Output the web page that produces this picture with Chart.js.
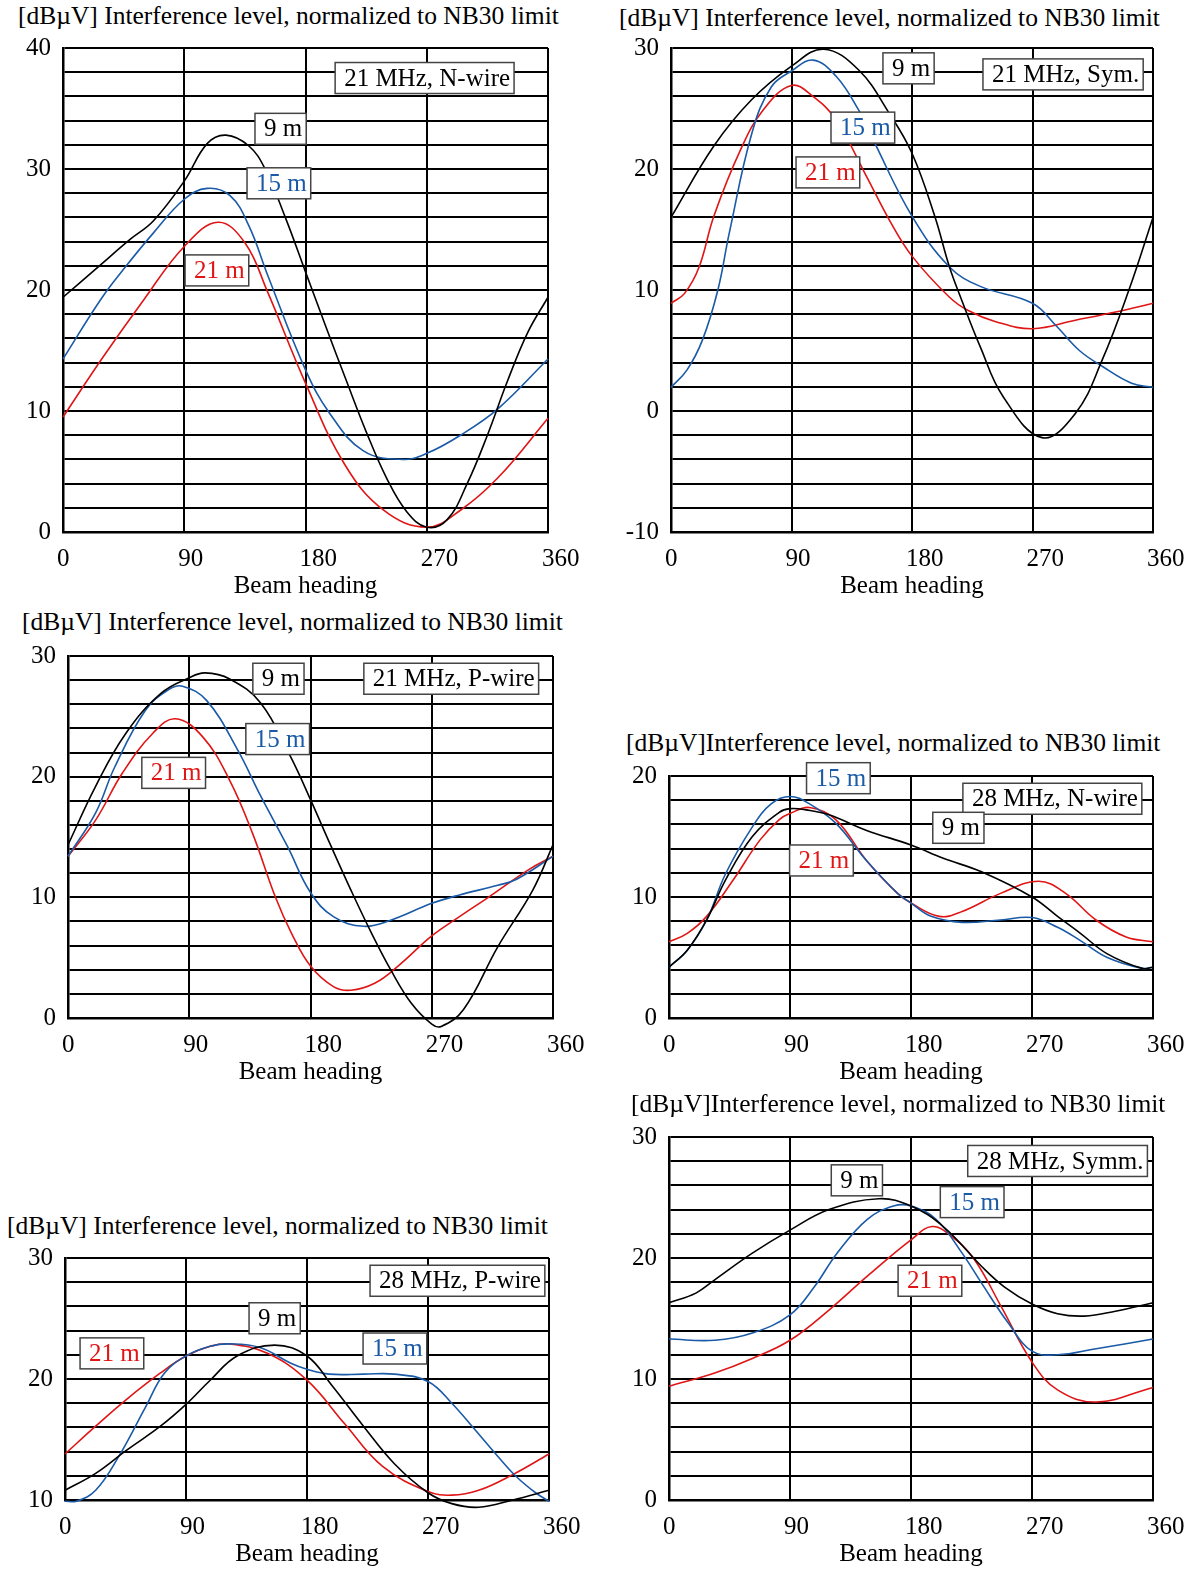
<!DOCTYPE html>
<html>
<head>
<meta charset="utf-8">
<script src="https://cdn.jsdelivr.net/npm/chart.js@4.4.1/dist/chart.umd.min.js"></script>
<style>
body { margin: 0; background: #fff; width: 1198px; height: 1574px; position: relative; overflow: hidden; font-family: "Liberation Serif", "Times New Roman", serif; }
.title { position: absolute; font-size: 25.5px; line-height: 25px; white-space: nowrap; color: #000; }
canvas { position: absolute; }
</style>
</head>
<body>
<script>
// beam heading ticks (degrees) and the three antenna heights
const headingTicks = [0, 90, 180, 270, 360];
const heights = ['9 m', '15 m', '21 m'];

// each curve: [beam heading, dBuV]
// 21 MHz, N-wire
const nWire21_9m = [[0,19.4],[27,22],[50,24.2],[67,25.7],[90,29],[107,32.1],[121,32.8],[138,31.9],[150,30.0],[165,26.0],[180,21.5],[195,17.0],[210,12.6],[225,8.3],[240,4.5],[255,1.7],[270,0.4],[285,1.0],[300,4.0],[315,8.0],[330,12.5],[345,16.5],[360,19.4]];
const nWire21_15m = [[0,14.3],[28.5,19.3],[47,22],[67,24.7],[90,27.5],[107,28.4],[124,27.8],[138,25.3],[152,21.2],[180,13.4],[198,9.8],[223,6.7],[252,6.0],[270,6.5],[295,8.0],[323,10.2],[360,14.3]];
const nWire21_21m = [[0,9.5],[30,14.5],[60,19.2],[90,23.6],[115,25.6],[135,23.9],[152,19.8],[180,12.3],[209,5.6],[238,1.8],[270,0.4],[295,1.8],[323,4.5],[360,9.4]];
// 21 MHz, Sym.
const sym21_9m = [[0,16],[32,21.9],[60,25.7],[90,28.5],[114,29.9],[140,28.2],[163,24.6],[180,21.3],[197,16.1],[208,11.9],[217,9.2],[231,5.3],[248,1.2],[277,-2.2],[302,-0.2],[322,4.2],[342,10],[360,16]];
const sym21_15m = [[0,1.95],[12,3.4],[23.6,5.9],[35,10],[43.5,14.7],[60.5,23],[75,26.8],[90,28.1],[106,29],[123,27.7],[140,24.9],[151,22.4],[180,16.1],[208,11.9],[231,10.3],[270,8.9],[288,7],[305,5],[322,3.7],[344,2.3],[360,1.95]];
const sym21_21m = [[0,8.9],[10,9.7],[21,11.9],[32,16.1],[52,21.6],[69,24.9],[90,26.9],[106,26],[123,24.1],[146,19.4],[163,15.8],[180,12.8],[208,9.4],[222,8.3],[242,7.4],[270,6.8],[302,7.5],[333,8.2],[360,8.9]];
// 21 MHz, P-wire
const pWire21_9m = [[0,14.35],[20.5,19.2],[43,23.6],[69,26.9],[90,28.2],[101.6,28.6],[120,28.1],[143,26.1],[165,21.7],[180,18.1],[195,14.3],[210,10.6],[225,7.1],[240,3.9],[255,1.2],[270,-0.5],[277,-0.7],[293.6,0.7],[319,5.9],[345,10.6],[360,14.35]];
const pWire21_15m = [[0,13.4],[20.5,17],[34.7,20.8],[57.5,25.5],[74.5,27.2],[85,27.5],[103,26.3],[126,22.2],[143,18.4],[163,14.2],[180,10.4],[197,8.4],[219.6,7.6],[239.5,8.1],[270,9.5],[290.6,10.2],[319,11],[333,11.5],[360,13.4]];
const pWire21_21m = [[0,13.4],[20.5,16.4],[40.4,20.3],[63,23.6],[79.7,24.8],[100,23.3],[120,19.7],[137,15.3],[154,10],[166,7],[180,4.3],[197,2.6],[210,2.3],[228,2.9],[245,4.3],[270,6.8],[290.6,8.4],[312,10],[342,12.3],[360,13.4]];
// 28 MHz, N-wire
const nWire28_9m = [[0,4.2],[13.6,5.6],[28,8.1],[42,11.4],[62,15],[82,17],[90,17.3],[102,17.2],[119,16.8],[147,15.5],[180,14.3],[204,13.2],[232,12.1],[270,10],[289,8.4],[306,7],[326,5.3],[352,4.1],[360,4.2]];
const nWire28_15m = [[0,4.2],[13.6,5.6],[28,8.1],[42,11.9],[62,15.8],[76,17.7],[90,18.3],[104.5,17.7],[124,16.1],[147,13],[170,10.3],[180,9.5],[195,8.4],[218,7.9],[246.6,8.1],[270,8.3],[289,7.5],[306,6.4],[326,5],[352,4.1],[360,4.2]];
const nWire28_21m = [[0,6.3],[13.6,7],[28,8.4],[47.7,11.4],[67.6,14.7],[82,16.4],[90,16.9],[104.5,17.4],[124,16.4],[147,13],[170,10.3],[180,9.5],[201,8.4],[218,8.8],[246.6,10.3],[275,11.3],[295,10.3],[317.6,8.1],[340,6.7],[360,6.3]];
// 28 MHz, P-wire
const pWire28_9m = [[0,10.8],[22.8,12.2],[45.6,14.1],[71,16.1],[90,17.9],[108,19.9],[128,21.9],[156,22.8],[180,21.9],[199,19.4],[222,16.1],[245,13],[270,10.6],[287.7,9.7],[307.7,9.4],[333,10],[360,10.8]];
const pWire28_15m = [[0,9.9],[8.5,9.9],[22.8,10.8],[40,13.6],[60,17.7],[74,20.5],[90,21.9],[108,22.7],[122.5,22.9],[145,22.6],[168,21.3],[180,20.8],[196.6,20.4],[222,20.4],[245,20.4],[270,19.8],[287.7,18],[305,15.8],[322,13.6],[336,11.9],[350,10.6],[360,9.9]];
const pWire28_21m = [[0,13.8],[22.8,16.1],[45.6,18.3],[71,20.5],[90,21.9],[108,22.7],[122.5,22.9],[151,22.1],[180,19.9],[208,16.3],[236,12.8],[270,10.7],[287.7,10.4],[307.7,10.8],[333,12.1],[360,13.8]];
// 28 MHz, Symm.
const symm28_9m = [[0,16.3],[20,17.1],[34,18.2],[62,20.4],[90,22.3],[119,24],[156,24.9],[180,24.3],[204,22.6],[232.6,19.3],[249.6,17.6],[270,16.2],[289,15.4],[309,15.2],[332,15.6],[360,16.3]];
const symm28_15m = [[0,13.3],[34,13.2],[62,13.8],[90,15.3],[108,17.6],[125,20.4],[147.5,23.2],[167,24.3],[180,24.3],[198.6,23.2],[218,20.4],[232.6,17.9],[252.5,14.6],[270,12.3],[289,12],[317.7,12.5],[360,13.3]];
const symm28_21m = [[0,9.4],[34,10.5],[62,11.7],[90,13.2],[119,15.7],[147.5,18.5],[180,21.5],[195.7,22.6],[210,21.8],[227,19.9],[247,16],[270,11.4],[289,9.1],[317.7,8.1],[360,9.3]];

const titleText = '[dB\u00b5V] Interference level, normalized to NB30 limit';
const titleTight = '[dB\u00b5V]Interference level, normalized to NB30 limit';
const lineColors = { '9 m': '#000000', '15 m': '#1a5aa6', '21 m': '#e01515' };

// page layout: plot box and title spot for each panel, plus where the label boxes sit (data coords)
const panels = [
  { title: titleText, tx: 18, ty: 3, plot: [63, 48, 485, 484], yRange: [0, 40],
    series: [nWire21_9m, nWire21_15m, nWire21_21m],
    notes: [['21 MHz, N-wire', 202, 38.8, '#000'], ['9 m', 142.5, 34.6, '9 m'], ['15 m', 136.6, 30.1, '15 m'], ['21 m', 90.6, 22.9, '21 m']] },
  { title: titleText, tx: 619, ty: 5, plot: [671, 48, 482, 484], yRange: [-10, 30],
    series: [sym21_9m, sym21_15m, sym21_21m],
    notes: [['9 m', 158.3, 29.6, '9 m'], ['21 MHz, Sym.', 233, 29.1, '#000'], ['15 m', 119.5, 24.7, '15 m'], ['21 m', 93.4, 21.0, '21 m']] },
  { title: titleText, tx: 22, ty: 609, plot: [68, 656, 485, 362], yRange: [0, 30],
    series: [pWire21_9m, pWire21_15m, pWire21_21m],
    notes: [['9 m', 137.2, 29.4, '9 m'], ['21 MHz, P-wire', 219.6, 29.4, '#000'], ['15 m', 132, 24.4, '15 m'], ['21 m', 54.8, 21.6, '21 m']] },
  { title: titleTight, tx: 626, ty: 730, plot: [669, 776, 484, 242], yRange: [0, 20],
    series: [nWire28_9m, nWire28_15m, nWire28_21m],
    notes: [['15 m', 102.3, 21.1, '15 m'], ['28 MHz, N-wire', 218.6, 19.4, '#000'], ['9 m', 196.2, 17.0, '9 m'], ['21 m', 89.7, 14.3, '21 m']] },
  { title: titleText, tx: 7, ty: 1213, plot: [65, 1258, 484, 242], yRange: [10, 30],
    series: [pWire28_9m, pWire28_15m, pWire28_21m],
    notes: [['28 MHz, P-wire', 226.9, 29.4, '#000'], ['9 m', 136.9, 26.3, '9 m'], ['21 m', 11.2, 23.4, '21 m'], ['15 m', 221.7, 23.8, '15 m']] },
  { title: titleTight, tx: 631, ty: 1091, plot: [669, 1137, 484, 363], yRange: [0, 30],
    series: [symm28_9m, symm28_15m, symm28_21m],
    notes: [['28 MHz, Symm.', 222.2, 29.3, '#000'], ['9 m', 120.7, 27.7, '9 m'], ['15 m', 201.8, 25.9, '15 m'], ['21 m', 170.4, 19.4, '21 m']] }
];

const serif = '"Liberation Serif", "Times New Roman", serif';
const yAxisW = 62, padTop = 40, padRight = 60, xAxisH = 75;

// white boxes with the height / band names, placed through the chart scales
const boxLabels = {
  id: 'boxLabels',
  afterDatasetsDraw(chart, args, opts) {
    const ctx = chart.ctx;
    const xs = chart.scales.x, ys = chart.scales.y;
    ctx.save();
    ctx.font = '25px ' + serif;
    ctx.textBaseline = 'middle';
    for (const note of opts.notes) {
      const left = xs.getPixelForValue(note[1]);
      const top = ys.getPixelForValue(note[2]);
      const w = ctx.measureText(note[0]).width + 13;
      const h = 31;
      ctx.fillStyle = '#fff';
      ctx.fillRect(left, top, w, h);
      ctx.strokeStyle = '#444';
      ctx.lineWidth = 1.5;
      ctx.strokeRect(left, top, w, h);
      ctx.fillStyle = lineColors[note[3]] || note[3];
      ctx.fillText(note[0], left + 9, top + h / 2 + 1);
    }
    ctx.restore();
  }
};

function makePanel(p) {
  const title = document.createElement('div');
  title.className = 'title';
  title.style.left = p.tx + 'px';
  title.style.top = p.ty + 'px';
  title.textContent = p.title;
  document.body.appendChild(title);

  const [pl, pt, pw, ph] = p.plot;
  const canvas = document.createElement('canvas');
  canvas.width = yAxisW + pw + padRight;
  canvas.height = padTop + ph + xAxisH;
  canvas.style.left = (pl - yAxisW) + 'px';
  canvas.style.top = (pt - padTop) + 'px';
  document.body.appendChild(canvas);

  const datasets = p.series.map((pts, i) => ({
    label: heights[i],
    data: pts.map(d => ({ x: d[0], y: d[1] })),
    borderColor: lineColors[heights[i]],
    borderWidth: 1.6,
    pointRadius: 0,
    tension: 0.4,
    clip: false
  }));

  return new Chart(canvas, {
    type: 'line',
    data: { datasets: datasets },
    options: {
      responsive: false,
      animation: false,
      devicePixelRatio: 1,
      elements: { line: { capBezierPoints: false } },
      layout: { autoPadding: false, padding: { top: padTop, right: padRight, left: 0, bottom: 0 } },
      plugins: {
        legend: { display: false },
        tooltip: { enabled: false },
        boxLabels: { notes: p.notes }
      },
      scales: {
        x: {
          type: 'linear', min: headingTicks[0], max: headingTicks[headingTicks.length - 1],
          afterBuildTicks: s => { s.ticks = headingTicks.map(v => ({ value: v })); },
          afterFit: s => { s.height = xAxisH; },
          ticks: { font: { family: serif, size: 25 }, color: '#000', align: 'start', labelOffset: -6, padding: 12, maxRotation: 0, autoSkip: false },
          grid: { color: '#000', lineWidth: 2, drawTicks: false },
          border: { color: '#000', width: 2.5 },
          title: { display: true, text: 'Beam heading', color: '#000', font: { family: serif, size: 25 }, padding: { top: 0, bottom: 6 } }
        },
        y: {
          min: p.yRange[0], max: p.yRange[1],
          afterFit: s => { s.width = yAxisW; },
          ticks: { stepSize: 2, maxTicksLimit: 100, autoSkip: false, font: { family: serif, size: 25 }, color: '#000', padding: 12,
                   callback: v => (v % 10 === 0 ? v : '') },
          grid: { color: '#000', lineWidth: 2, drawTicks: false },
          border: { color: '#000', width: 2.5 }
        }
      }
    },
    plugins: [boxLabels]
  });
}

panels.forEach(makePanel);
</script>
</body>
</html>
